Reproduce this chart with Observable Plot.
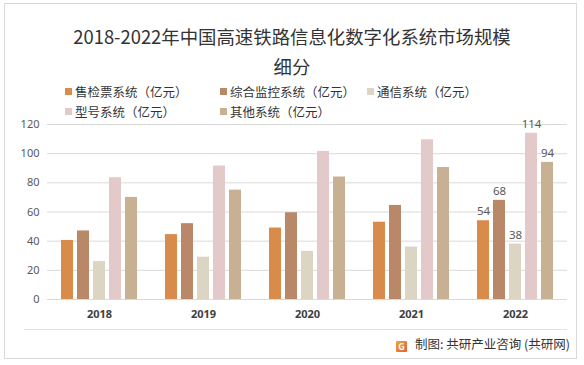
<!DOCTYPE html>
<html>
<head>
<meta charset="utf-8">
<script src="https://cdn.jsdelivr.net/npm/d3@7"></script>
<script src="https://cdn.jsdelivr.net/npm/@observablehq/plot@0.6"></script>
<style>
  html, body { margin: 0; padding: 0; background: #fff; }
  #wrap { position: relative; width: 584px; height: 365px; overflow: hidden; font-family: "Noto Sans CJK SC", "Noto Sans", sans-serif; }
  #frame { position: absolute; left: 4px; top: 3px; width: 573px; height: 356px; border: 1px solid #d9d9d9; box-sizing: border-box; }
  #title { position: absolute; left: 0; width: 584px; top: 21px; text-align: center; font-size: 18.4px; line-height: 30px; color: #333; }
  .leg { position: absolute; font-size: 12.5px; color: #333; white-space: nowrap; line-height: 16px; }
  .leg i { display: inline-block; width: 7px; height: 7px; margin-right: 3px; vertical-align: 2px; }
  #chart { position: absolute; left: 0; top: 114px; }
  #sep { position: absolute; left: 24px; top: 329px; width: 543px; height: 1px; background: #e3e3e3; }
  #caption { position: absolute; right: 14px; top: 334px; font-size: 12.5px; color: #333; white-space: nowrap; }
  #caption .logo { display: inline-block; width: 11px; height: 11px; margin-right: 8px; vertical-align: -1px; background: linear-gradient(135deg, #f2a43a, #e0603a); color: #fff; font-size: 9px; line-height: 11px; text-align: center; font-weight: bold; border-radius: 1px; }
</style>
</head>
<body>
<div id="wrap">
  <div id="frame"></div>
  <div id="title">2018-2022年中国高速铁路信息化数字化系统市场规模<br>细分</div>
  <div id="legend"></div>
  <div id="chart"></div>
  <div id="sep"></div>
  <div id="caption"><span class="logo">G</span>制图: 共研产业咨询 (共研网)</div>
</div>
<script>
const years = ["2018", "2019", "2020", "2021", "2022"];
const seriesNames = ["售检票系统（亿元）", "综合监控系统（亿元）", "通信系统（亿元）", "型号系统（亿元）", "其他系统（亿元）"];
const ticketing = [40.5, 44.5, 49, 53, 54];
const monitoring = [47, 52, 59.5, 64.5, 68];
const communication = [26, 29, 33, 36, 38];
const signal = [83.5, 91.5, 101.5, 109.5, 114];
const others = [70, 75, 84, 90.5, 94];
const seriesColors = ["#D98B4C", "#B88868", "#DCD5C3", "#E3C9C9", "#C8B193"];
const yTicks = [0, 20, 40, 60, 80, 100, 120];
const labelYear = "2022";

const seriesValues = [ticketing, monitoring, communication, signal, others];
const data = [];
years.forEach((yr, i) => {
  seriesNames.forEach((s, j) => data.push({year: yr, series: s, value: seriesValues[j][i]}));
});

// legend
const legendPos = [[65, 84], [220, 84], [367, 84], [65, 104], [220, 104]];
const legendEl = document.getElementById("legend");
seriesNames.forEach((s, j) => {
  const d = document.createElement("div");
  d.className = "leg";
  d.style.left = legendPos[j][0] + "px";
  d.style.top = legendPos[j][1] + "px";
  d.innerHTML = `<i style="background:${seriesColors[j]}"></i>${s}`;
  legendEl.appendChild(d);
});

const chart = Plot.plot({
  width: 584,
  height: 212,
  marginLeft: 47,
  marginRight: 17,
  marginTop: 10,
  marginBottom: 27,
  style: {fontFamily: "'Noto Sans', 'Noto Sans CJK SC', sans-serif", fontSize: "11px", color: "#595959", background: "transparent"},
  fx: {domain: years, padding: 0, label: null},
  x: {domain: seriesNames, paddingInner: 0.25, paddingOuter: 0.875, axis: null},
  y: {domain: [0, 120], label: null},
  color: {domain: seriesNames, range: seriesColors},
  marks: [
    Plot.gridY(yTicks, {stroke: "#d9d9d9", strokeOpacity: 1}),
    Plot.axisY(yTicks, {tickSize: 0, tickPadding: 8, label: null, fill: "#595959"}),
    Plot.axisFx({anchor: "bottom", tickSize: 0, tickPadding: 11, label: null, fontWeight: "bold", fill: "#404040"}),
    Plot.barY(data, {fx: "year", x: "series", y: "value", fill: "series"}),
    Plot.text(data.filter(d => d.year === labelYear), {fx: "year", x: "series", y: "value", text: d => String(d.value), dy: -9, fill: "#595959", fontSize: 11.5})
  ]
});
document.getElementById("chart").appendChild(chart);
</script>
</body>
</html>
